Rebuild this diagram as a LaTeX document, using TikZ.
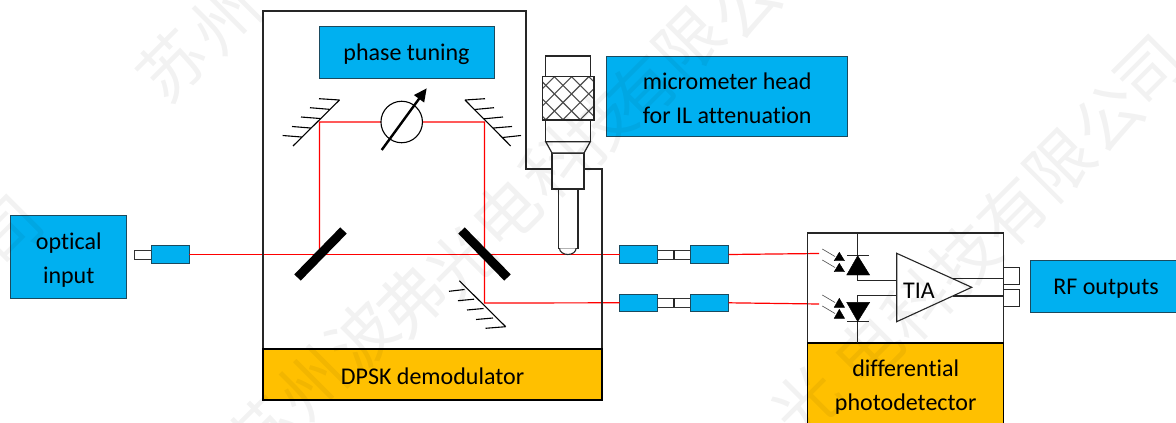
\documentclass[tikz,border=0pt]{standalone}
\usepackage{fontspec}
\setmainfont{Carlito}[Ligatures=NoCommon]
\newfontfamily\cjk{Noto Sans CJK SC}
\usetikzlibrary{arrows.meta,calc}
\definecolor{bluebox}{HTML}{00B0F0}
\definecolor{orangeband}{HTML}{FFC000}
\definecolor{edgeblue}{HTML}{1B4A5E}
\newcommand\dn{\rule{0pt}{24pt}}
\newcommand\dnone{\rule{0pt}{21pt}}
\tikzset{
  lbl/.style={inner sep=0pt,outer sep=0pt,align=center,font=\fontsize{24}{34}\selectfont,text=black},
  bluelabel/.style={lbl,draw=edgeblue,line width=1pt,fill=bluebox},
  orangelabel/.style={lbl,draw=black,line width=1.2pt,fill=orangeband},
  wall/.style={draw=black!85,line width=1.2pt},
  beam/.style={draw=red,line width=1.2pt},
  coupler/.style={draw=edgeblue,line width=1pt,fill=bluebox,inner sep=0pt,outer sep=0pt,minimum width=38pt,minimum height=17.5pt},
  stub/.style={draw=black!80,line width=1pt,fill=white,inner sep=0pt,outer sep=0pt,minimum height=9pt},
  mirror/.style={draw=black,line width=1.1pt},
  splitter/.style={draw=black,line width=9pt},
  wire/.style={draw=black!85,line width=1.1pt},
  solid tri/.style={fill=black,draw=black,line width=.4pt,line join=miter},
  photon/.style={draw=black!70,line width=.6pt},
  watermark/.style={inner sep=0pt,rotate=45,font=\fontsize{66}{66}\selectfont\cjk,text=black,text opacity=.05}
}
\begin{document}
\begin{tikzpicture}[x=1pt,y=-1pt]
\useasboundingbox (0,0) rectangle (1176,423);
\clip (0,0) rectangle (1176,423);
\fill[white] (0,0) rectangle (1176,423);

% key points
\coordinate (bsA) at (319.5,254.5);
\coordinate (bsB) at (484.5,254.5);
\coordinate (mA) at (319.5,122);
\coordinate (mB) at (484.5,122);
\coordinate (mC) at (484.5,303);
\coordinate (pdA) at (819,253.5);
\coordinate (pdB) at (819,304);

% DPSK housing
\fill[white] (263,11) -- (526,11) -- (526,169) -- (602,169) -- (602,400) -- (263,400) -- cycle;

% couplers
\node[stub,minimum width=17pt] (inStub) at (142.8,254.5) {};
\node[coupler] (inC) at (170,254.5) {};
\node[stub,minimum width=33pt] (midA) at (674,254.5) {};
\node[stub,minimum width=33pt] (midB) at (674,302.8) {};
\draw[wire] (midA.north) -- (midA.south);
\draw[wire] (midB.north) -- (midB.south);
\node[coupler] (lA) at (638.5,254.5) {};
\node[coupler] (rA) at (709.5,254.5) {};
\node[coupler] (lB) at (638.5,302.8) {};
\node[coupler] (rB) at (709.5,302.8) {};

% beams
\draw[beam] (inC.east) -- (bsA) -- (bsB) -- (lA.west);
\draw[beam] (bsA) -- (mA) -- (mB) -- (mC) -- (lB.west);

% housing outline and band
\draw[wall] (263,11) -- (526,11) -- (526,169) -- (602,169) -- (602,400) -- (263,400) -- cycle;
\node[orangelabel,minimum width=339pt,minimum height=51pt] (dpsk) at (432.5,374.5) {\dnone DPSK demodulator};

% mirrors
\draw[mirror] (293,146) -- (339.5,100)
  (339.5,100) -- (319,98.7) (329,109.3) -- (310,107.7) (320,118.5) -- (301,117)
  (310.5,128) -- (292,126.5) (301.5,137) -- (282.6,135.5);
\draw[mirror] (510.7,146) -- (465,100)
  (465,100) -- (485,98.7) (474.5,109.5) -- (494,107.7) (484,118.8) -- (503,117)
  (493.3,128) -- (512,126.5) (502.5,137.5) -- (521,135.5);
\draw[mirror] (459.3,280.7) -- (505.7,326.7)
  (464.5,289.5) -- (449,291.3) (474,299.2) -- (458,300.7) (483.5,308.5) -- (467,310)
  (493,318) -- (476,319.5) (505.7,326.7) -- (485.5,328.3);

% splitters
\draw[splitter] (343.5,230.5) -- (297.5,277.5);
\draw[splitter] (461.5,230.5) -- (507.5,277.5);

% phase shifter
\node[draw=black,line width=1.1pt,fill=white,circle,minimum size=41.5pt,inner sep=0pt] (phase) at (401.7,122) {};
\draw[draw=black,line width=2.4pt,-{Triangle[length=13pt,width=12pt]}] (381.7,150) -- (426.7,88.3);

% labelled boxes
\node[bluelabel,minimum width=116.5pt,minimum height=83pt] (optin) at (68.7,256.5) {\dn optical\\input};
\node[bluelabel,minimum width=175pt,minimum height=52pt] (tuning) at (406.5,52.5) {\dnone phase tuning};
\node[bluelabel,minimum width=240.5pt,minimum height=80.5pt] (micro) at (727.2,96.5) {\rule{0pt}{20pt}micrometer head\\for IL attenuation};
\node[bluelabel,minimum width=160pt,minimum height=52pt] (rf) at (1110,286) {\hspace*{-8pt}\dnone RF outputs};

% micrometer head
\draw[wire,fill=white] (558.3,189) -- (558.3,248.3) -- (578,248.3) -- (578,189) -- cycle;
\draw[wire,fill=white] (559.5,248.3) arc[x radius=8.3,y radius=6.2,start angle=180,end angle=0];
\draw[wall,fill=white] (552,153) rectangle (584,189);
\draw[wall,fill=white] (545.7,141.7) -- (590.3,141.7) -- (584,153) -- (552,153) -- cycle;
\draw[wall,fill=white] (545.7,56) rectangle (590.3,141.7);
\begin{scope}
  \clip (542.3,76.7) rectangle (594,120);
  \fill[white] (542.3,76.7) rectangle (594,120);
  \foreach \k in {-4,...,8} {
    \draw[black!70,line width=1.1pt] (520+17.2*\k,76.7) -- ++(44,44);
    \draw[black!70,line width=1.1pt] (520+17.2*\k,76.7) -- ++(-44,44);
  }
\end{scope}
\draw[wall] (542.3,76.7) rectangle (594,120);

% photodetector
\fill[white] (807.7,233) rectangle (1003.7,343);
\draw[beam] (rA.east) -- (pdA);
\draw[beam] (rB.east) -- (pdB);
\draw[wall] (807.7,233) rectangle (1003.7,430);
\node[lbl,draw=black,line width=1.2pt,fill=orangeband,minimum width=196pt,minimum height=90pt,anchor=north west] (pdband) at (807.7,343) {};
\node[lbl] (pdtext) at (905.7,387.5) {differential\\photodetector};
\node[draw=black!85,line width=1.1pt,fill=white,inner sep=0pt,minimum width=15.5pt,minimum height=17pt] (outA) at (1011.5,275.7) {};
\node[draw=black!85,line width=1.1pt,fill=white,inner sep=0pt,minimum width=15.5pt,minimum height=17pt] (outB) at (1011.5,298) {};
\coordinate (diodeTop) at (857.7,233);
\coordinate (diodeBot) at (857.7,343);
\coordinate (tiaIn1) at (896.7,280.7);
\coordinate (tiaIn2) at (896.7,295.7);
\draw[wire] (diodeTop) -- (857.7,256);
\draw[wire] (857.7,275) |- (tiaIn1);
\draw[wire] (tiaIn2) -| (857.7,302.3);
\draw[wire] (857.7,321.5) -- (diodeBot);
\draw[wire] (847.3,255.7) -- (869,255.7) (847.3,321.7) -- (869,321.7);
\fill[solid tri] (857.7,255.7) -- (869.7,275) -- (846.7,275) -- cycle;
\fill[solid tri] (857.7,321.5) -- (869.7,302.3) -- (846.7,302.3) -- cycle;
\foreach \ya/\yb in {252.3/260.7,263.3/271.7,298.3/307.3,309.3/318.3}
  \fill[solid tri] (839.3,\ya) -- (844.5,\yb) -- (834.2,\yb) -- cycle;
\foreach \ys in {249,260,295,306}
  \draw[photon] (822.3,\ys) -- ++(12.7,7.5);
\draw[wire] (951.8,278.3) -- (1003.7,278.3) (953,296) -- (1003.7,296);
\draw[wire] (896.7,253.3) -- (971.7,287.3) -- (896.7,321.7) -- cycle;
\node[lbl] (tia) at (919,291) {TIA};

% watermark
\foreach \g/\x/\y [count=\i] in {苏/172/65,州/225/18}
  \node[watermark] (wmA\i) at (\x,\y) {\g};
\foreach \g/\x/\y [count=\i] in {苏/262/432,州/312/384,波/362/336,弗/411/300,光/461/262,电/506/213,科/555/163,技/600/125,有/642/90,限/689/43,公/745/5}
  \node[watermark] (wmB\i) at (\x,\y) {\g};
\foreach \g/\x/\y [count=\i] in {光/806/402,电/868/350,科/917/305,技/965/258,有/1012/212,限/1060/165,公/1108/118,司/1150/72}
  \node[watermark] (wmC\i) at (\x,\y) {\g};
\node[watermark] (wmD) at (8,232) {司};
\end{tikzpicture}
\end{document}
